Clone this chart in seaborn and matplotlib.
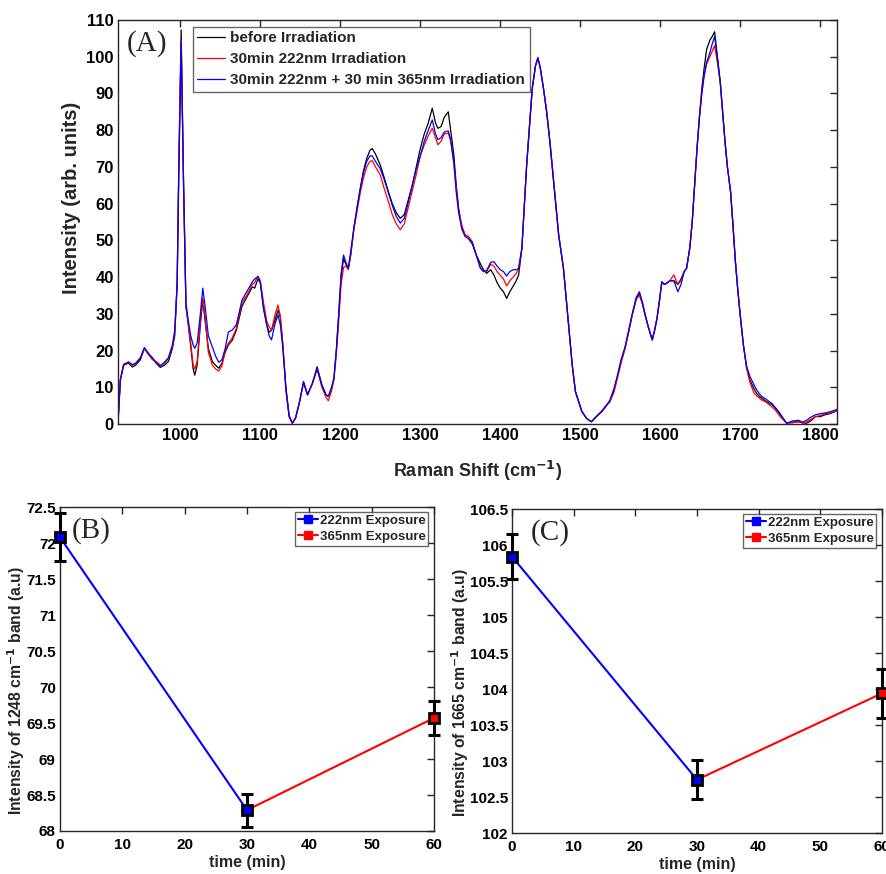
import numpy as np
import pandas as pd
import matplotlib
matplotlib.use("Agg")
import matplotlib.pyplot as plt
from matplotlib.lines import Line2D
import seaborn as sns

# ---- Raman spectra (wavenumber in cm^-1, intensity in arb. units) ----
wavenumber = [922, 925, 929, 935, 940, 944, 950, 955, 960, 965, 970, 975, 980, 985, 990,
              993, 996, 998, 1001, 1004, 1007, 1010, 1013, 1016, 1018, 1021, 1025, 1028,
              1031, 1035, 1040, 1044, 1048, 1052, 1056, 1060, 1065, 1070, 1077, 1083,
              1090, 1093, 1097, 1100, 1104, 1108, 1111, 1114, 1118, 1122, 1125, 1128,
              1132, 1136, 1140, 1144, 1149, 1154, 1159, 1165, 1171, 1177, 1182, 1185,
              1189, 1192, 1195, 1198, 1201, 1204, 1207, 1210, 1213, 1217, 1221, 1225,
              1229, 1233, 1237, 1240, 1244, 1250, 1255, 1260, 1265, 1270, 1275, 1280,
              1285, 1290, 1295, 1300, 1305, 1310, 1315, 1319, 1322, 1326, 1330, 1335,
              1338, 1342, 1345, 1348, 1352, 1356, 1360, 1365, 1370, 1375, 1379, 1383,
              1388, 1392, 1396, 1400, 1404, 1408, 1412, 1416, 1420, 1423, 1427, 1433,
              1440, 1444, 1447, 1450, 1454, 1458, 1462, 1468, 1473, 1479, 1485, 1490,
              1494, 1502, 1508, 1514, 1520, 1527, 1532, 1537, 1542, 1546, 1551, 1556,
              1560, 1565, 1570, 1574, 1578, 1581, 1585, 1590, 1593, 1596, 1599, 1602,
              1605, 1608, 1612, 1617, 1622, 1626, 1630, 1633, 1637, 1640, 1643, 1646,
              1649, 1652, 1655, 1658, 1662, 1665, 1668, 1671, 1675, 1678, 1681, 1684,
              1688, 1691, 1694, 1697, 1700, 1704, 1708, 1712, 1717, 1720, 1724, 1727,
              1732, 1740, 1745, 1750, 1758, 1765, 1773, 1778, 1783, 1788, 1794, 1800,
              1806, 1812, 1819, 1821]

before_irr = [0.3, 12, 16, 16.6, 15.5, 16, 17.5, 20.6, 19, 18, 16.5, 15.4, 16, 17, 20.5,
              24, 38.7, 70, 107.3, 66, 32, 27, 21, 15, 13.3, 16, 27, 33.7,
              28, 20.6, 17, 16, 15.2, 16.5, 19.5, 21.5, 22.8, 25.5, 32, 34.5,
              37.3, 37, 39.5, 38.5, 31.5, 27, 25, 25.5, 28, 31, 29, 22,
              10, 2.4, 0.2, 1.6, 6, 11.5, 7.9, 11, 15.6, 10.6, 8, 7.5,
              9.5, 12.4, 20, 29.7, 40, 45, 43.5, 42.4, 46, 53.3, 59, 64.2,
              69, 72.3, 74.5, 75, 73.5, 70.5, 67, 63.3, 60, 57.5, 56, 57,
              61, 65, 70, 75, 79, 82, 86, 82, 80.5, 81, 83.5, 85,
              80, 73.2, 65, 58.7, 53.5, 51.5, 51, 49.6, 46, 43.7, 42, 41,
              42, 40.6, 38.5, 37, 36, 34.2, 36, 37.5, 39, 40.6, 47.8, 70.5,
              91.4, 97.5, 99.7, 97, 91.4, 85, 77, 63, 51.5, 42.4, 27.9, 16,
              8.8, 3.4, 1.5, 0.6, 2, 3.4, 4.8, 6.1, 9, 12.4, 17, 20.6,
              24.5, 29.7, 34, 35.6, 32.5, 29.7, 26.5, 22.9, 25.5, 28.8, 33.5, 38.7,
              38, 38.3, 39, 39, 38, 39.5, 41.5, 42.4, 48, 55, 65, 75,
              83.5, 91.4, 97, 102, 104.5, 105.5, 106.8, 101, 93.2, 85, 76.9, 70,
              63.2, 54, 44.2, 36.5, 29.7, 21.5, 15.2, 12, 9.7, 8.5, 7.5, 7,
              6.2, 5.2, 4, 2.5, 0.2, 0.5, 0.6, 0.3, 0.2, 0.8, 2, 2,
              2.5, 2.8, 3.4, 3.5]

after_222 = [0.3, 12, 16.3, 16.8, 16, 16.4, 18, 20.5, 19, 17.5, 17, 16, 16.5, 17.8, 21,
             25, 38, 68, 104.7, 65, 32, 27, 22, 16, 15, 17, 28, 34.3,
             29, 19.5, 16, 15, 14.4, 15.8, 20, 22, 23.5, 26, 33, 35,
             38, 38.5, 40.3, 39, 33, 28, 26.5, 25.5, 29.5, 32.4, 29.5, 22,
             9, 2, 0.2, 1.6, 6, 11, 8, 11, 15, 10, 7.3, 6.3,
             9, 12, 19, 28, 38, 42.6, 43, 42, 46, 53, 58, 63,
             67, 70, 71.5, 71.7, 70, 67.8, 64, 60.6, 57, 54.5, 52.9, 54.5,
             59, 63.5, 68, 73, 76, 78.5, 80.5, 78, 76, 77, 79, 79.2,
             77, 71, 64, 58, 54, 51.5, 51, 49.3, 46, 42.5, 41.5, 41.5,
             43.5, 43, 41.5, 40.5, 39.5, 37.6, 39, 40, 41, 42.4, 47.8, 70.5,
             91.4, 97.5, 99.7, 97, 91.4, 85, 77, 63, 51.5, 42.4, 27.9, 16,
             8.8, 3.4, 1.5, 0.6, 2, 3.6, 5, 6, 8.5, 12, 16.5, 20.6,
             24.5, 29.7, 34, 35, 32.5, 29.7, 26.5, 22.9, 25.5, 28.8, 33.5, 38.7,
             38, 38.3, 39, 40.6, 38, 39, 41.5, 42.4, 48, 55, 65, 75,
             83.5, 90, 95, 98, 100, 101.5, 103, 99, 93.2, 85, 76.9, 70,
             63.2, 54, 44.2, 36.5, 29.7, 21.5, 15.2, 11.5, 8.5, 7.8, 7, 6.5,
             6, 4.6, 3.5, 2, 0.2, 0.3, 0.6, 0.3, 0.5, 1.2, 2, 2.3,
             2.8, 3, 3.5, 3.6]

after_222_365 = [0.3, 12, 16, 16.9, 16.2, 16.5, 18, 20.8, 19.3, 18, 16.5, 15.8, 16.8, 18, 21.5,
                 25.5, 38, 67, 104, 65, 33, 28, 24, 21.5, 20.6, 22, 30, 37,
                 32, 24, 21, 18.5, 16.8, 17.5, 20.5, 25, 25.6, 27, 33.7, 36,
                 38.7, 39.5, 40.1, 38.5, 31.5, 27, 24, 22.9, 27, 29.7, 27, 21,
                 9.5, 2, 0.2, 1.6, 6, 11.5, 8, 11, 15, 10.5, 8, 7.5,
                 10, 12.4, 20, 30, 41, 46, 44, 42.4, 47, 53.5, 59, 64,
                 68.5, 71.5, 73, 73, 71.5, 69.5, 66.5, 63, 59.5, 56.5, 54.7, 56,
                 60.5, 65, 69.5, 73, 77, 80, 82.8, 79, 77.4, 78, 79.5, 79.8,
                 77.5, 71, 63, 57.5, 53, 51, 50.5, 49, 46, 42.5, 41.5, 41.8,
                 44, 44.2, 43, 42, 41.5, 40.3, 41.5, 42, 42, 42.4, 47.8, 70.5,
                 91.4, 97.5, 99.7, 97, 91.4, 85, 77, 63, 51.5, 42.4, 27.9, 16,
                 8.8, 3.4, 1.5, 0.6, 2, 3.4, 4.8, 6.5, 9.5, 12.8, 17.5, 21,
                 25, 30, 34.5, 36, 33, 30, 26.5, 22.9, 25.5, 28.8, 33.5, 38.7,
                 38, 38.3, 39, 39, 36, 38, 41.5, 42.4, 48, 55, 65, 75,
                 83.5, 90, 95, 98.5, 101, 103.5, 105.5, 100.5, 93.2, 85, 76.9, 70,
                 63.2, 54, 44.2, 36.5, 29.7, 21.5, 15.8, 13, 10.8, 9.5, 8.2, 7.5,
                 6.8, 5.5, 4.2, 2.8, 0.2, 0.8, 1, 0.5, 1, 1.8, 2.5, 2.8,
                 3, 3.3, 3.8, 4]

spectrum_labels = ["before Irradiation", "30min 222nm Irradiation",
                   "30min 222nm + 30 min 365nm Irradiation"]
spectrum_colors = ["black", "red", "blue"]

# ---- band intensities vs. exposure time ----
time_min = [0, 30, 60]
band_1248 = [72.08, 68.29, 69.57]
band_1248_err = [0.33, 0.23, 0.23]
band_1665 = [105.84, 102.74, 103.94]
band_1665_err = [0.31, 0.27, 0.34]
exposure_labels = ["222nm Exposure", "365nm Exposure"]
exposure_colors = ["blue", "red"]

sns.set_theme(style="white")
plt.rcParams["font.family"] = ["Liberation Sans", "DejaVu Sans"]
plt.rcParams["font.weight"] = "bold"
plt.rcParams["axes.labelweight"] = "bold"
plt.rcParams["mathtext.default"] = "bf"

fig = plt.figure(figsize=(8.87, 8.74), dpi=100)
axA = fig.add_axes([0.133, 0.5149, 0.8106, 0.4622])
axB = fig.add_axes([0.0676, 0.0492, 0.4217, 0.3707])
axC = fig.add_axes([0.5772, 0.0469, 0.4171, 0.3707])


def style_box(ax, fs):
    for s in ax.spines.values():
        s.set_visible(True)
        s.set_color("#262626")
        s.set_linewidth(1.0)
    ax.tick_params(direction="in", top=True, right=True, length=5, width=1,
                   labelsize=fs, colors="#262626", labelcolor="black", pad=3)
    for lab in ax.get_xticklabels() + ax.get_yticklabels():
        lab.set_fontweight("bold")


# ---- (A) spectra ----
spec = pd.DataFrame({
    "wn": wavenumber * 3,
    "I": before_irr + after_222 + after_222_365,
    "cond": sum([[lab] * len(wavenumber) for lab in spectrum_labels], []),
})
sns.lineplot(data=spec, x="wn", y="I", hue="cond", hue_order=spectrum_labels,
             palette=dict(zip(spectrum_labels, spectrum_colors)), linewidth=0.9,
             sort=False, estimator=None, ax=axA, legend=False)
axA.set_xlim(922, 1821)
axA.set_ylim(0, 110)
axA.set_xticks(np.arange(1000, 1801, 100))
axA.set_yticks(np.arange(0, 111, 10))
style_box(axA, 12)
axA.set_xlabel("Raman Shift (cm$^{-1}$)", fontsize=13, fontweight="bold", labelpad=11)
axA.set_ylabel("Intensity (arb. units)", fontsize=14.5, fontweight="bold")
axA.yaxis.set_label_coords(-0.052, 0.56)
axA.text(0.012, 0.975, "(A)", transform=axA.transAxes, ha="left", va="top",
         fontsize=21, family="Liberation Serif", fontweight="normal")
handlesA = [Line2D([], [], color=c, lw=0.9) for c in spectrum_colors]
legA = axA.legend(handlesA, spectrum_labels, loc="upper left",
                  bbox_to_anchor=(0.104, 0.983), borderaxespad=0, frameon=True,
                  fancybox=False, edgecolor="#404040", handlelength=1.8,
                  handletextpad=0.35, borderpad=0.3, labelspacing=0.45,
                  prop={"weight": "bold", "size": 11})
legA.get_frame().set_linewidth(1.0)


# ---- (B), (C) band intensity vs time ----
def band_panel(ax, vals, errs, ylim, ylab, tag, tag_x, label_x):
    seg = pd.DataFrame({
        "t": [time_min[0], time_min[1], time_min[1], time_min[2]],
        "v": [vals[0], vals[1], vals[1], vals[2]],
        "exp": [exposure_labels[0]] * 2 + [exposure_labels[1]] * 2,
    })
    sns.lineplot(data=seg, x="t", y="v", hue="exp", hue_order=exposure_labels,
                 palette=dict(zip(exposure_labels, exposure_colors)),
                 linewidth=1.5, estimator=None, sort=False, ax=ax, legend=False)
    ax.errorbar(time_min, vals, yerr=errs, fmt="none", ecolor="black",
                elinewidth=2.2, capsize=4, capthick=2.2, zorder=4, clip_on=False)
    pt_colors = [exposure_colors[0], exposure_colors[0], exposure_colors[1]]
    for t, v, c in zip(time_min, vals, pt_colors):
        ax.plot([t], [v], marker="s", ms=6.5, mfc=c, mec="black", mew=2.0,
                ls="none", zorder=5, clip_on=False)
    ax.set_xlim(0, 60)
    ax.set_ylim(*ylim)
    ax.set_xticks(np.arange(0, 61, 10))
    yt = np.arange(ylim[0], ylim[1] + 0.01, 0.5)
    ax.set_yticks(yt)
    ax.set_yticklabels([f"{y:g}" for y in yt])
    style_box(ax, 11)
    ax.tick_params(axis="x", pad=5)
    ax.set_xlabel("time (min)", fontsize=11.5, fontweight="bold", labelpad=2)
    ax.set_ylabel(ylab, fontsize=11.3, fontweight="bold")
    ax.yaxis.set_label_coords(label_x, 0.435)
    ax.text(tag_x, 0.97, tag, transform=ax.transAxes, ha="left", va="top",
            fontsize=21, family="Liberation Serif", fontweight="normal")
    hs = [Line2D([], [], color=c, lw=1.5, marker="s", ms=6, mfc=c, mec=c)
          for c in exposure_colors]
    leg = ax.legend(hs, exposure_labels, loc="upper right",
                    bbox_to_anchor=(0.984, 0.985), borderaxespad=0, frameon=True,
                    fancybox=False, edgecolor="#404040", handlelength=1.5,
                    handletextpad=0.15, borderpad=0.2, labelspacing=0.3,
                    prop={"weight": "bold", "size": 9.5})
    leg.get_frame().set_linewidth(1.0)


band_panel(axB, band_1248, band_1248_err, (68, 72.5),
           "Intensity of 1248 cm$^{-1}$ band (a.u)", "(B)", 0.032, -0.088)
band_panel(axC, band_1665, band_1665_err, (102, 106.5),
           "Intensity of 1665 cm$^{-1}$ band (a.u)", "(C)", 0.051, -0.112)

fig.savefig("out.png", dpi=100)
